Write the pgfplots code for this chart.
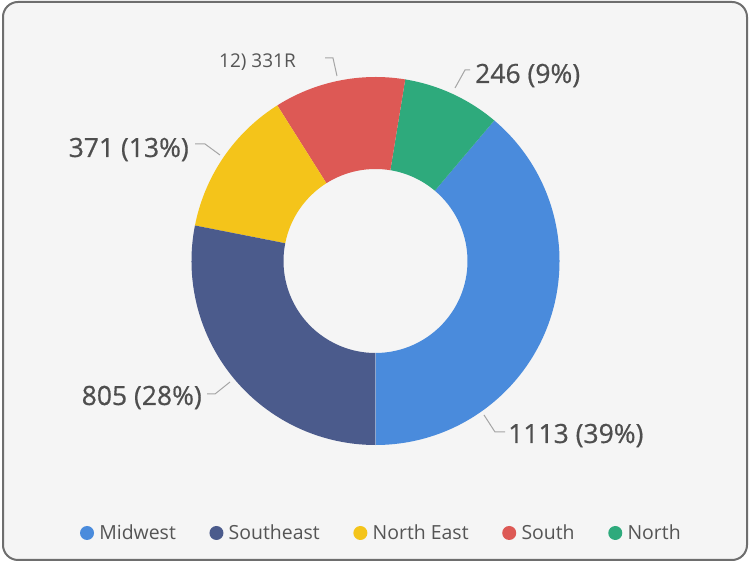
\documentclass[border=0pt]{standalone}
\usepackage{pgfplots}
\pgfplotsset{compat=1.18}
\usepackage{pgfplotstable}
\usepackage{fontspec}
\setmainfont{Open Sans}
\newfontfamily\labfam[FakeBold=0.6]{Open Sans}
\definecolor{cMid}{RGB}{74,139,220}
\definecolor{cSE}{RGB}{75,91,140}
\definecolor{cNE}{RGB}{244,196,26}
\definecolor{cS}{RGB}{221,89,85}
\definecolor{cN}{RGB}{46,170,124}
\definecolor{bgc}{RGB}{245,245,245}
\definecolor{txt}{RGB}{85,85,85}
\definecolor{labtxt}{RGB}{78,78,78}
\definecolor{lead}{RGB}{165,165,165}
\definecolor{frame}{RGB}{110,110,110}

% counter-clockwise from 6 o'clock
\pgfplotstableread{
region value
Midwest 1113
North 246
South 331
NorthEast 371
Southeast 805
}\regions

\newcommand\getv[2]{\pgfplotstablegetelem{#1}{value}\of\regions\global\let#2\pgfplotsretval}
\newcommand\donutwedge[3]{%
  \fill[#3] (axis cs:375.5,302) ++(#1:5.52cm) arc[start angle=#1,end angle=#2,radius=5.52cm]
    -- ++(#2:-2.76cm) arc[start angle=#2,end angle=#1,radius=2.76cm] -- cycle;}
\newcommand\labfont{\labfam\fontsize{22.6}{27}\selectfont}
\newcommand\smallfont{\fontsize{16.2}{19}\selectfont}
\newcommand\legfont{\fontsize{16.6}{20}\selectfont}

\begin{document}
\begin{tikzpicture}
\getv{0}\vA \getv{1}\vB \getv{2}\vC \getv{3}\vD \getv{4}\vE
\pgfmathsetmacro\tot{\vA+\vB+\vC+\vD+\vE}
\pgfmathsetmacro\aA{270}
\pgfmathsetmacro\aB{\aA+\vA/\tot*360}
\pgfmathsetmacro\aC{\aB+\vB/\tot*360}
\pgfmathsetmacro\aD{\aC+\vC/\tot*360}
\pgfmathsetmacro\aE{\aD+\vD/\tot*360}
\pgfmathsetmacro\aF{\aE+\vE/\tot*360}
\begin{axis}[
  hide axis, x=0.03cm, y=0.03cm,
  xmin=0, xmax=750, ymin=0, ymax=563,
  clip=false,
  legend columns=5,
  legend image code/.code={\fill (0.21cm,0cm) circle[radius=0.21cm];},
  legend style={at={(axis cs:383,30)}, anchor=center, draw=none, fill=none,
    font=\legfont, text=txt, nodes={text=txt, inner xsep=4.5pt},
    /tikz/every even column/.append style={column sep=0.85cm}},
]
\fill[white] (axis cs:0,0) rectangle (axis cs:750,563);
\draw[frame, fill=bgc, line width=0.06cm, rounded corners=0.45cm] (axis cs:3,3) rectangle (axis cs:747,561);

\donutwedge{\aA}{\aB}{cMid}
\donutwedge{\aB}{\aC}{cN}
\donutwedge{\aC}{\aD}{cS}
\donutwedge{\aD}{\aE}{cNE}
\donutwedge{\aE}{\aF}{cSE}

% leader lines
\draw[lead, line width=0.03cm] (axis cs:484,148) -- (axis cs:495,131) -- (axis cs:505,131);
\draw[lead, line width=0.03cm] (axis cs:230,181) -- (axis cs:215,169) -- (axis cs:207,169);
\draw[lead, line width=0.03cm] (axis cs:220,408) -- (axis cs:205,419) -- (axis cs:195,419);
\draw[lead, line width=0.03cm] (axis cs:337,487) -- (axis cs:333,505) -- (axis cs:325,505);
\draw[lead, line width=0.03cm] (axis cs:455,475) -- (axis cs:465,493) -- (axis cs:470,493);

% labels
\node[anchor=base west, inner sep=0, text=labtxt, font=\labfont] at (axis cs:508,120) {1113 (39\%)};
\node[anchor=base east, inner sep=0, text=labtxt, font=\labfont] at (axis cs:202,158) {805 (28\%)};
\node[anchor=base east, inner sep=0, text=labtxt, font=\labfont] at (axis cs:189,406) {371 (13\%)};
\node[anchor=base west, inner sep=0, text=txt, font=\smallfont] at (axis cs:219,495) {12) 331R};
\node[anchor=base west, inner sep=0, text=labtxt, font=\labfont] at (axis cs:475,480) {246 (9\%)};

\addlegendimage{fill=cMid, draw=none}\addlegendentry{Midwest}
\addlegendimage{fill=cSE, draw=none}\addlegendentry{Southeast}
\addlegendimage{fill=cNE, draw=none}\addlegendentry{North East}
\addlegendimage{fill=cS, draw=none}\addlegendentry{South}
\addlegendimage{fill=cN, draw=none}\addlegendentry{North}
\end{axis}
\end{tikzpicture}
\end{document}
